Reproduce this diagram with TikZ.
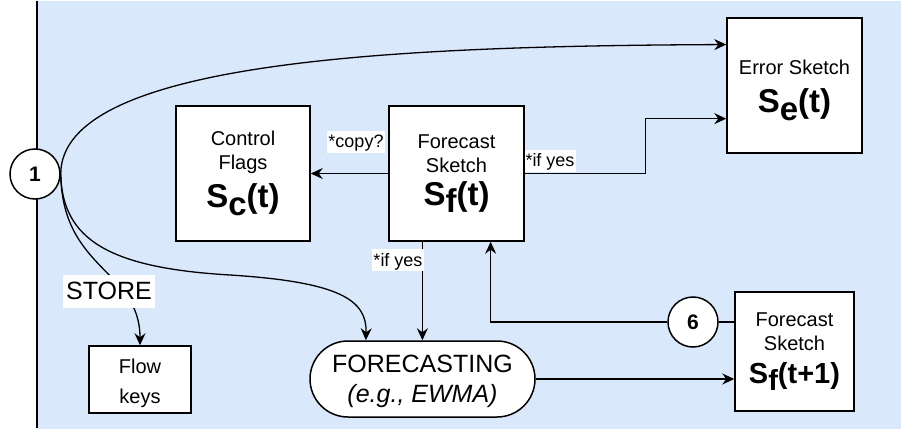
\documentclass[tikz,border=0pt]{standalone}
\usepackage{fontspec}
\setmainfont{Liberation Sans}
\usetikzlibrary{arrows.meta,calc}
\definecolor{bgblue}{HTML}{DAE8FC}
\newcommand\Ssub[2]{S\raisebox{-0.22em}{#1}#2}
\newcommand\upstrut[1]{\rule{0pt}{#1}}
\begin{document}
\begin{tikzpicture}[x=1pt,y=-1pt,
  box/.style={draw, line width=1.5pt, fill=white, inner sep=0pt, align=center,
    font=\fontsize{20}{24}\selectfont},
  circ/.style={circle, draw, fill=white, line width=1.5pt, minimum size=50pt,
    inner sep=0pt, font=\fontsize{21}{21}\selectfont\bfseries},
  conn/.style={line width=1.3pt, -{Stealth[length=12pt,width=11pt,inset=4pt]}},
  plainline/.style={line width=1.3pt},
  lab/.style={fill=white, inner xsep=1pt, inner ysep=1pt, text height=16pt, text depth=4pt,
    font=\fontsize{18}{20}\selectfont},
  biglab/.style={fill=white, inner xsep=3pt, inner ysep=2pt, text height=23pt, text depth=6pt,
    font=\fontsize{25}{30}\selectfont}]
\useasboundingbox (0,0) rectangle (901,430);
\fill[bgblue] (37,1) rectangle (901,429);
\draw[line width=1.5pt] (37,1) -- (37,428);

% boxes
\node[box, minimum width=134pt, minimum height=135pt] (ctrl) at (243,173.5)
  {Control\\Flags\\[9pt]{\fontsize{33}{33}\selectfont\bfseries\Ssub{c}{(t)}}};
\node[box, minimum width=135pt, minimum height=135pt] (fc) at (456.5,173.5)
  {Forecast\\Sketch\\[8pt]{\fontsize{33}{33}\selectfont\bfseries\Ssub{f}{(t)}}};
\node[box, minimum width=135pt, minimum height=135pt] (err) at (794.5,85.5)
  {\upstrut{24pt}Error Sketch\\[13pt]{\fontsize{33}{33}\selectfont\bfseries\Ssub{e}{(t)}}};
\node[box, minimum width=119pt, minimum height=119pt] (fc1) at (794.5,351.5)
  {Forecast\\Sketch\\[9pt]{\fontsize{29}{29}\selectfont\bfseries\Ssub{f}{(t+1)}}};
\node[box, minimum width=102pt, minimum height=67pt] (flow) at (140,379.5)
  {\upstrut{23pt}Flow\\[6pt]keys};
\node[box, minimum width=225pt, minimum height=76pt, rounded corners=38pt,
  font=\fontsize{25}{30}\selectfont] (fcst) at (422.5,379)
  {\upstrut{22pt}FORECASTING\\{\itshape (e.g., EWMA)}};
\node[circ] (c1) at (35,174) {1};
\node[circ] (c6) at (693,322) {6};

% anchor points on borders
\coordinate (errA) at ($(err.north west)!0.2!(err.south west)$);
\coordinate (errB) at ($(err.north west)!0.743!(err.south west)$);
\coordinate (fcS1) at ($(fc.south west)!0.25!(fc.south east)$);
\coordinate (fcS3) at ($(fc.south west)!0.75!(fc.south east)$);
\coordinate (fcstN) at ($(fcst.north west)!0.25!(fcst.north east)$);

% connectors
\draw[conn] (c1.east) .. controls (61,60) and (400,46) .. (errA);
\draw[conn] (c1.east) .. controls (62,240) and (110,268) .. (230,275)
  .. controls (340,282) and (367,300) .. (fcstN);
\draw[conn] (c1.east) .. controls (62,270) and (140,270) .. (flow.north);
\draw[conn] (fc.west) -- (ctrl.east);
\draw[conn] (fc.east) -| ($(errB)+(-81,0)$) -- (errB);
\draw[conn] (fcS1) -- (fcS1 |- fcst.north);
\draw[conn] (c6.west) -| (fcS3);
\draw[plainline] (c6.east) -- (c6.east -| fc1.west);
\draw[conn] (fcst.east) -- (fcst.east -| fc1.west);

% labels
\node[lab] (lcopy) at (356,142) {*copy?};
\node[lab] (lyes1) at (550,161) {*if yes};
\node[lab] (lyes2) at (398,260) {*if yes};
\node[biglab] (lstore) at (109,291) {STORE};
\end{tikzpicture}
\end{document}
